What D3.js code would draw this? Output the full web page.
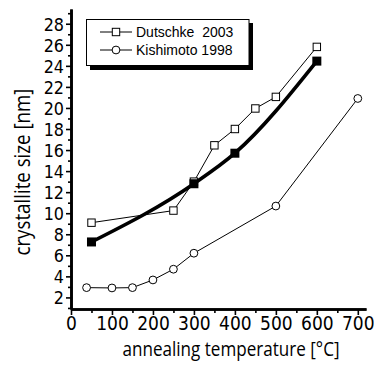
<!DOCTYPE html>
<html><head><meta charset="utf-8">
<script src="https://cdn.jsdelivr.net/npm/d3@7"></script>
<style>body{margin:0;background:#fff}svg{display:block}</style>
</head><body>
<svg id="c" width="374" height="365"></svg>
<script>
const dutschkeT = [50, 250, 300, 350, 400, 450, 500, 600];
const dutschkeV = [9.1, 10.25, 13.0, 16.45, 18.0, 19.95, 21.05, 25.8];
const fitT = [50, 300, 400, 600];
const fitV = [7.27, 12.8, 15.7, 24.45];
const kishT = [38, 100, 150, 200, 250, 300, 500, 700];
const kishV = [2.93, 2.9, 2.93, 3.66, 4.68, 6.2, 10.68, 20.9];
const xTicks = [0, 100, 200, 300, 400, 500, 600, 700];
const yTicks = [2, 4, 6, 8, 10, 12, 14, 16, 18, 20, 22, 24, 26, 28];
const legendLabels = ["Dutschke  2003", "Kishimoto 1998"];

const svg = d3.select("#c");
const x = d3.scaleLinear().domain([0, 720]).range([71, 366]);
const y = d3.scaleLinear().domain([0.9, 29.4]).range([309, 9]);

const xAxis = d3.axisBottom(x).tickValues(xTicks).tickSize(6).tickPadding(2).tickSizeOuter(0);
const xMinor = d3.axisBottom(x).tickValues(d3.range(50, 720, 100)).tickSize(4).tickFormat("").tickSizeOuter(0);
const yAxis = d3.axisLeft(y).tickValues(yTicks).tickSize(5).tickPadding(2).tickSizeOuter(0);
const yMinor = d3.axisLeft(y).tickValues(d3.range(1, 30, 2)).tickSize(3).tickFormat("").tickSizeOuter(0);

function style(g){
  g.select(".domain").attr("stroke", "#000").attr("stroke-width", 2.6);
  g.selectAll(".tick line").attr("stroke", "#000").attr("stroke-width", 1.6);
}
svg.append("g").attr("transform", "translate(0,309)").call(xMinor).call(style);
const gx = svg.append("g").attr("transform", "translate(0,309)").call(xAxis).call(style);
gx.selectAll("text").attr("font-family", "DejaVu Sans Condensed").attr("font-size", 19).attr("fill", "#000");
svg.append("g").attr("transform", "translate(71,0)").call(yMinor).call(style);
const gy = svg.append("g").attr("transform", "translate(71,0)").call(yAxis).call(style);
gy.selectAll("text").attr("font-family", "DejaVu Sans Condensed").attr("font-size", 17.8).attr("fill", "#000").attr("dy", "0.36em");

svg.append("text").attr("x", 231).attr("y", 356).attr("text-anchor", "middle").attr("fill", "#000")
  .attr("font-family", "Open Sans").attr("font-size", 19.5).attr("textLength", 217).attr("lengthAdjust", "spacingAndGlyphs")
  .text("annealing temperature [°C]");
svg.append("text").attr("transform", "translate(30,172) rotate(-90)").attr("text-anchor", "middle").attr("fill", "#000")
  .attr("font-family", "Open Sans").attr("font-size", 22).attr("textLength", 167).attr("lengthAdjust", "spacingAndGlyphs")
  .text("crystallite size [nm]");

const line = d3.line().x(d => x(d[0])).y(d => y(d[1]));
const dData = dutschkeT.map((t, i) => [t, dutschkeV[i]]);
const fData = fitT.map((t, i) => [t, fitV[i]]);
const kData = kishT.map((t, i) => [t, kishV[i]]);

svg.append("path").attr("d", line(kData)).attr("fill", "none").attr("stroke", "#000").attr("stroke-width", 1);
svg.append("path").attr("d", line(dData)).attr("fill", "none").attr("stroke", "#000").attr("stroke-width", 1);
const smooth = d3.line().x(d => x(d[0])).y(d => y(d[1])).curve(d3.curveMonotoneX);
svg.append("path").attr("d", smooth(fData)).attr("fill", "none").attr("stroke", "#000").attr("stroke-width", 3.6);

svg.selectAll(".kc").data(kData).enter().append("circle")
  .attr("cx", d => x(d[0])).attr("cy", d => y(d[1])).attr("r", 3.9)
  .attr("fill", "#fff").attr("stroke", "#000").attr("stroke-width", 1);
svg.selectAll(".ds").data(dData).enter().append("rect")
  .attr("x", d => x(d[0]) - 3.7).attr("y", d => y(d[1]) - 3.7).attr("width", 7.4).attr("height", 7.4)
  .attr("fill", "#fff").attr("stroke", "#000").attr("stroke-width", 1);
svg.selectAll(".fs").data(fData).enter().append("rect")
  .attr("x", d => x(d[0]) - 4.5).attr("y", d => y(d[1]) - 4.5).attr("width", 9).attr("height", 9)
  .attr("fill", "#000");

const lg = svg.append("g");
lg.append("rect").attr("x", 90).attr("y", 23).attr("width", 163).attr("height", 47).attr("fill", "#000");
lg.append("rect").attr("x", 86.5).attr("y", 19.5).attr("width", 162.5).attr("height", 46).attr("fill", "#fff").attr("stroke", "#000").attr("stroke-width", 1);
const rows = [32, 50];
rows.forEach((ry, i) => {
  lg.append("line").attr("x1", 100).attr("x2", 132).attr("y1", ry).attr("y2", ry).attr("stroke", "#000").attr("stroke-width", 1);
  if (i === 0) lg.append("rect").attr("x", 112.3).attr("y", ry - 3.7).attr("width", 7.4).attr("height", 7.4).attr("fill", "#fff").attr("stroke", "#000");
  else lg.append("circle").attr("cx", 116).attr("cy", ry).attr("r", 3.9).attr("fill", "#fff").attr("stroke", "#000");
  lg.append("text").attr("x", 136).attr("y", ry + 4.8).attr("font-family", "Liberation Sans").attr("font-size", 14).attr("fill", "#000")
    .style("white-space", "pre").text(legendLabels[i]);
});
</script>
</body></html>
